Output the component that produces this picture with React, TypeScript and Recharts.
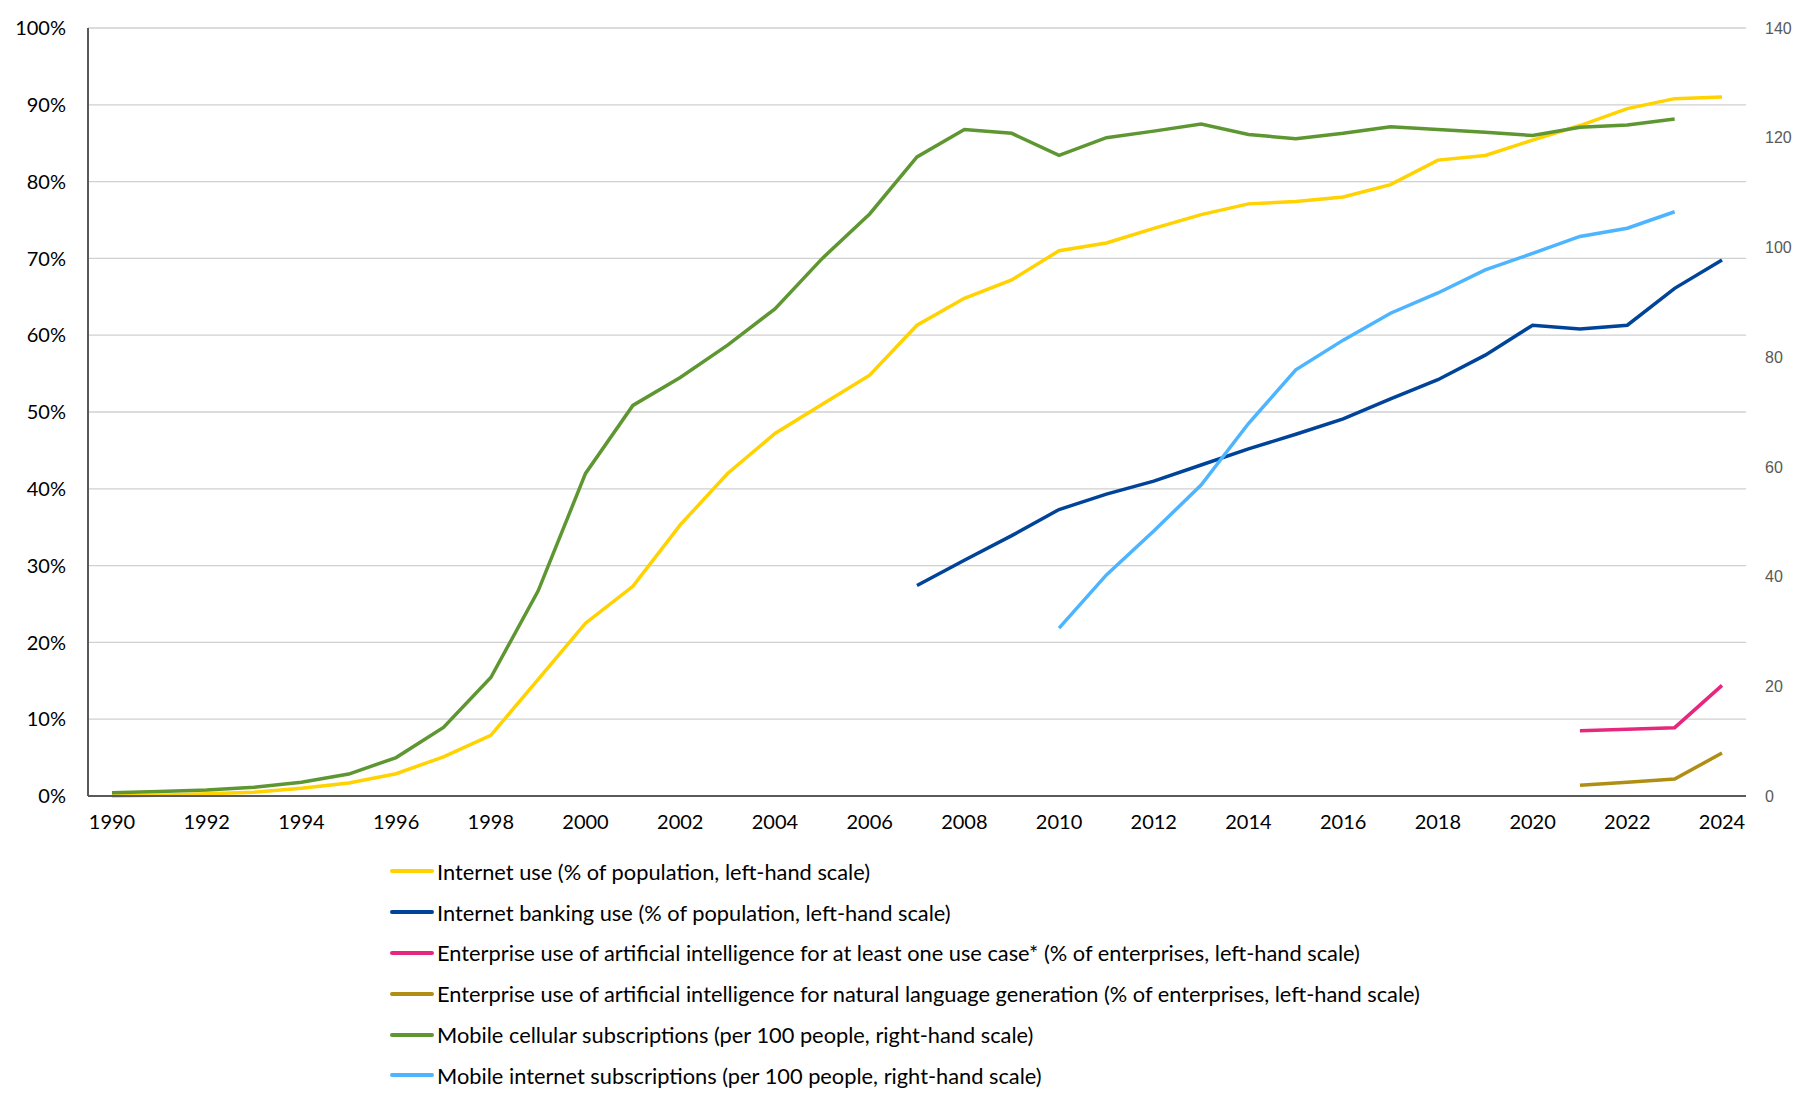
import React from "react";
import { LineChart, Line, XAxis, YAxis, CartesianGrid, Legend } from "recharts";

const years: number[] = [
  1990, 1991, 1992, 1993, 1994, 1995, 1996, 1997, 1998, 1999, 2000, 2001, 2002, 2003, 2004, 2005, 2006,
  2007, 2008, 2009, 2010, 2011, 2012, 2013, 2014, 2015, 2016, 2017, 2018, 2019, 2020, 2021, 2022, 2023, 2024,
];

// Internet use (% of population, left-hand scale)
const internetUse: (number | null)[] = [
  0.0, 0.1, 0.3, 0.5, 1.0, 1.7, 2.9, 5.1, 7.9, 15.2, 22.5, 27.3, 35.3, 42.0, 47.2, 51.0, 54.8,
  61.3, 64.8, 67.2, 71.0, 72.0, 73.9, 75.7, 77.1, 77.4, 78.0, 79.6, 82.8, 83.4, 85.4, 87.3, 89.5, 90.8, 91.0,
];

// Internet banking use (% of population, left-hand scale)
const internetBanking: (number | null)[] = [
  null, null, null, null, null, null, null, null, null, null, null, null, null, null, null, null, null,
  27.4, 30.7, 33.9, 37.3, 39.3, 41.0, 43.1, 45.2, 47.1, 49.1, 51.7, 54.2, 57.4, 61.3, 60.8, 61.3, 66.1, 69.8,
];

// Enterprise use of AI for at least one use case (% of enterprises, left-hand scale)
const aiAnyUse: (number | null)[] = [
  null, null, null, null, null, null, null, null, null, null, null, null, null, null, null, null, null,
  null, null, null, null, null, null, null, null, null, null, null, null, null, null, 8.5, 8.7, 8.9, 14.4,
];

// Enterprise use of AI for natural language generation (% of enterprises, left-hand scale)
const aiNlg: (number | null)[] = [
  null, null, null, null, null, null, null, null, null, null, null, null, null, null, null, null, null,
  null, null, null, null, null, null, null, null, null, null, null, null, null, null, 1.4, 1.8, 2.2, 5.6,
];

// Mobile cellular subscriptions (per 100 people, right-hand scale)
const mobileCellular: (number | null)[] = [
  0.6, 0.8, 1.1, 1.6, 2.5, 4.0, 7.0, 12.5, 21.6, 37.4, 58.8, 71.2, 76.3, 82.2, 88.8, 98.0, 106.1,
  116.5, 121.5, 120.8, 116.8, 120.0, 121.2, 122.5, 120.6, 119.8, 120.8, 122.0, 121.5, 121.0, 120.4, 121.9, 122.3, 123.4, null,
];

// Mobile internet subscriptions (per 100 people, right-hand scale)
const mobileInternet: (number | null)[] = [
  null, null, null, null, null, null, null, null, null, null, null, null, null, null, null, null, null,
  null, null, null, 30.6, 40.3, 48.3, 56.7, 67.9, 77.7, 83.1, 88.0, 91.7, 95.9, 98.9, 102.0, 103.5, 106.5, null,
];

const leftTicks: number[] = [0, 10, 20, 30, 40, 50, 60, 70, 80, 90, 100];
const rightTicks: number[] = [0, 20, 40, 60, 80, 100, 120, 140];

const seriesDefs = [
  { key: "internetUse", values: internetUse, axis: "left", color: "#FFD200", name: "Internet use (% of population, left-hand scale)" },
  { key: "internetBanking", values: internetBanking, axis: "left", color: "#00449A", name: "Internet banking use (% of population, left-hand scale)" },
  { key: "aiAnyUse", values: aiAnyUse, axis: "left", color: "#E5287E", name: "Enterprise use of artificial intelligence for at least one use case* (% of enterprises, left-hand scale)" },
  { key: "aiNlg", values: aiNlg, axis: "left", color: "#B08E14", name: "Enterprise use of artificial intelligence for natural language generation (% of enterprises, left-hand scale)" },
  { key: "mobileCellular", values: mobileCellular, axis: "right", color: "#5E9732", name: "Mobile cellular subscriptions (per 100 people, right-hand scale)" },
  { key: "mobileInternet", values: mobileInternet, axis: "right", color: "#4DB5FF", name: "Mobile internet subscriptions (per 100 people, right-hand scale)" },
];

const data = years.map((y, i) => {
  const row: Record<string, number | null | string> = { year: String(y) };
  seriesDefs.forEach((s) => {
    row[s.key] = s.values[i];
  });
  return row;
});

const FONT = "Lato, 'Liberation Sans', sans-serif";

const renderLegend = () => (
  <div style={{ fontFamily: FONT, fontSize: 21.8, color: "#000" }}>
    {seriesDefs.map((s) => (
      <div key={s.key} style={{ display: "flex", alignItems: "center", height: 40.8 }}>
        <div style={{ width: 44, height: 4, background: s.color, borderRadius: 2, marginRight: 3 }} />
        <span style={{ whiteSpace: "nowrap" }}>{s.name}</span>
      </div>
    ))}
  </div>
);

export default function App() {
  return (
    <div style={{ position: "absolute", left: 0, top: 0, width: 1813, height: 1097, background: "#fff" }}>
      <LineChart width={1813} height={1097} data={data} margin={{ top: 28, right: 0, bottom: 261, left: 0 }}>
        <CartesianGrid yAxisId="left" vertical={false} stroke="#D0D0D0" strokeWidth={1.3} />
        <XAxis
          dataKey="year"
          interval={1}
          tickLine={false}
          axisLine={{ stroke: "#595959", strokeWidth: 2 }}
          padding={{ left: 24, right: 24 }}
          height={40}
          tickMargin={13}
          tick={{ fontFamily: FONT, fontSize: 20, fill: "#000" }}
        />
        <YAxis
          yAxisId="left"
          orientation="left"
          domain={[0, 100]}
          ticks={leftTicks}
          width={88}
          tickLine={false}
          axisLine={{ stroke: "#595959", strokeWidth: 2 }}
          tickMargin={16}
          tickFormatter={(v: number) => `${v}%`}
          tick={{ fontFamily: FONT, fontSize: 20, fill: "#000" }}
        />
        <YAxis
          yAxisId="right"
          orientation="right"
          domain={[0, 140]}
          ticks={rightTicks}
          width={67}
          tickLine={false}
          axisLine={false}
          tickMargin={13}
          tick={{ fontFamily: "'Liberation Sans', Arial, sans-serif", fontSize: 16, fill: "#595959" }}
        />
        {seriesDefs.map((s) => (
          <Line
            key={s.key}
            yAxisId={s.axis}
            type="linear"
            dataKey={s.key}
            name={s.name}
            stroke={s.color}
            strokeWidth={3.5}
            dot={false}
            activeDot={false}
            connectNulls={false}
            isAnimationActive={false}
          />
        ))}
        <Legend
          layout="vertical"
          align="center"
          verticalAlign="middle"
          content={renderLegend}
          wrapperStyle={{ position: "absolute", top: 851, left: 390, width: 1300 }}
        />
      </LineChart>
    </div>
  );
}
